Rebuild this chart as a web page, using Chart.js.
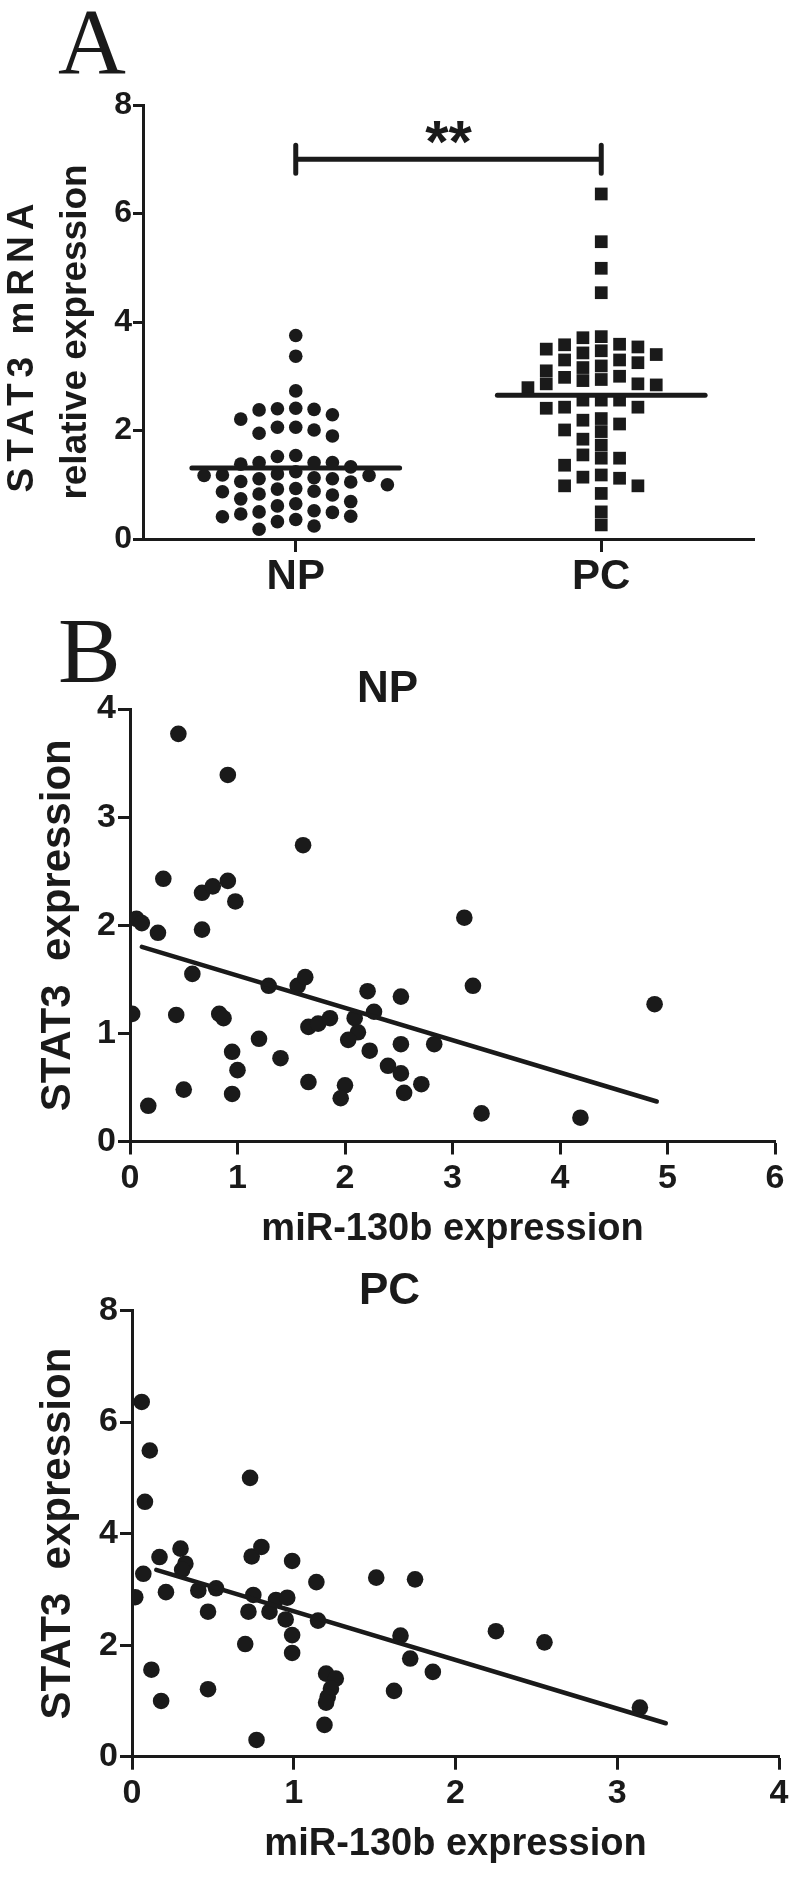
<!DOCTYPE html>
<html>
  <head>
    <script src="https://cdn.jsdelivr.net/npm/chart.js@4.4.1/dist/chart.umd.min.js"></script>
    <style>
      body { margin: 0; background: #fff; width: 794px; height: 1879px; position: relative; overflow: hidden; }
      .panel { position: absolute; left: 0; }
      .letter { position: absolute; font-family: 'Liberation Serif', 'Times New Roman', serif; font-size: 94px; line-height: 1; color: #1a1a1a; }
    </style>
  </head>

  <body>
    <div class="letter" style="left: 58px; top: -6px">A</div>
    <div class="letter" style="left: 58px; top: 603px">B</div>
    <div class="panel" style="top: 0"><canvas id="dotplot" width="794" height="620"></canvas></div>
    <div class="panel" style="top: 620px"><canvas id="npCorr" width="794" height="640"></canvas></div>
    <div class="panel" style="top: 1260px"><canvas id="pcCorr" width="794" height="619"></canvas></div>
    <script>
      // --- panel A: STAT3 mRNA relative expression per group
      const groups = ['NP', 'PC'];
      const npExpr = [3.75, 3.37, 2.73, 2.40, 2.38, 2.29, 2.39, 2.41, 2.21, 2.06, 2.01, 1.90, 1.95, 2.06,
        1.54, 1.41, 1.41, 1.38, 1.33, 1.41, 1.52, 1.24, 1.18, 1.17, 1.13, 1.17, 1.20, 1.11, 1.06, 1.00,
        1.05, 1.11, 0.93, 0.88, 0.83, 0.81, 0.87, 0.92, 0.74, 0.65, 0.61, 0.69, 0.50, 0.46, 0.41, 0.36,
        0.42, 0.49, 0.52, 0.32, 0.18, 0.24];
      const pcExpr = [6.36, 5.48, 4.99, 4.54, 3.71, 3.73, 3.59, 3.58, 3.50, 3.43, 3.47, 3.54, 3.40, 3.30,
        3.30, 3.25, 3.16, 3.19, 3.10, 3.00, 2.94, 2.98, 2.92, 2.86, 2.84, 2.86, 2.79, 2.56, 2.56, 2.56,
        2.41, 2.43, 2.43, 2.22, 2.19, 1.98, 2.12, 2.01, 1.84, 1.73, 1.49, 1.49, 1.55, 1.36, 1.18, 1.12,
        1.14, 0.98, 0.98, 0.84, 0.50, 0.26];
      const sigY = 7.0;
      const sigLabel = '**';

      // --- panel B: miR-130b (x) vs STAT3 (y)
      const npMir = [0.31, 0.67, 0.77, 0.91, 0.98, 0.06, 0.11, 0.26, 0.67, 0.58, 1.29, 1.56, 1.63, 2.21,
        2.52, 0.02, 0.43, 0.83, 0.87, 2.27, 2.09, 1.66, 1.75, 1.86, 2.12, 2.03, 1.20, 0.95, 2.23, 2.52,
        1.00, 1.40, 2.40, 2.52, 0.50, 0.95, 1.66, 2.00, 1.96, 0.17, 2.55, 0.45, 0.91, 1.61, 3.11, 3.19,
        4.88, 2.83, 2.71, 3.27, 4.19];
      const npStat = [2.43, 2.30, 2.36, 2.41, 2.22, 2.06, 2.02, 1.93, 1.96, 1.55, 1.44, 1.44, 1.52, 1.39,
        1.34, 1.18, 1.17, 1.18, 1.14, 1.20, 1.14, 1.06, 1.09, 1.14, 1.01, 0.94, 0.95, 0.83, 0.84, 0.90,
        0.66, 0.77, 0.70, 0.63, 0.48, 0.44, 0.55, 0.52, 0.40, 0.33, 0.45, 3.77, 3.39, 2.74, 2.07, 1.44,
        1.27, 0.90, 0.53, 0.26, 0.22];
      const npFitX = [0.11, 4.90];
      const npFitY = [1.80, 0.37];

      const pcMir = [0.06, 0.11, 0.08, 0.73, 0.17, 0.30, 0.33, 0.31, 0.74, 0.80, 0.99, 0.07, 1.14, 0.02,
        0.21, 0.41, 0.52, 0.75, 0.89, 0.96, 0.47, 0.72, 0.85, 0.95, 0.99, 0.99, 1.15, 0.70, 0.12, 0.18,
        0.47, 0.77, 1.20, 1.26, 1.23, 1.21, 1.20, 1.19, 1.51, 1.75, 1.66, 1.72, 1.86, 1.62, 2.25, 2.55, 3.14];
      const pcStat = [6.36, 5.49, 4.57, 5.00, 3.58, 3.73, 3.46, 3.35, 3.59, 3.76, 3.51, 3.28, 3.13, 2.86,
        2.95, 2.98, 3.02, 2.90, 2.81, 2.85, 2.60, 2.60, 2.60, 2.46, 2.18, 1.86, 2.44, 2.02, 1.56, 1.00,
        1.21, 0.30, 1.49, 1.40, 1.22, 1.07, 0.97, 0.57, 3.21, 3.18, 2.17, 1.76, 1.52, 1.18, 2.25, 2.05, 0.88];
      const pcFitX = [0.15, 3.30];
      const pcFitY = [3.35, 0.60];

      const ink = '#1a1a1a';
      const family = "'Liberation Sans', Arial, sans-serif";
      Chart.defaults.font.family = family;
      Chart.defaults.color = ink;

      const mean = (arr) => arr.reduce((a, b) => a + b, 0) / arr.length;

      // simple column scatter layout: each point takes the slot nearest the centre
      // where it does not overlap a point already placed
      function swarm(values, centre, slotWidth, minGap) {
        const placed = [];
        const order = values.map((v, i) => i).sort((a, b) => values[b] - values[a]);
        const out = new Array(values.length);
        order.forEach((i) => {
          const v = values[i];
          for (let k = 0; k < 40; k++) {
            const slot = k === 0 ? 0 : (k % 2 ? -Math.ceil(k / 2) : k / 2);
            const hit = placed.some((p) => p.slot === slot && Math.abs(p.v - v) < minGap);
            if (!hit) {
              placed.push({ slot, v });
              out[i] = { x: centre + slot * slotWidth, y: v };
              break;
            }
          }
        });
        return out;
      }

      const axisGrid = (len) => ({
        display: true,
        drawOnChartArea: false,
        drawTicks: true,
        tickLength: len,
        tickWidth: 3,
        tickColor: ink,
      });
      const axisBorder = { display: true, color: ink, width: 3 };
      const hLine = (x0, x1, y, w) => ({
        type: 'line',
        data: [{ x: x0, y }, { x: x1, y }],
        borderColor: ink,
        borderWidth: w,
        borderCapStyle: 'round',
        pointRadius: 0,
        fill: false,
      });

      // --- panel A
      const npMean = mean(npExpr);
      const pcMean = mean(pcExpr);
      const meanHalf = 0.34;
      const capHalf = 0.26;

      const sigText = {
        id: 'sigText',
        afterDatasetsDraw(chart) {
          const { ctx, scales } = chart;
          ctx.save();
          ctx.font = 'bold 60px ' + family;
          ctx.fillStyle = ink;
          ctx.textAlign = 'center';
          ctx.textBaseline = 'alphabetic';
          ctx.fillText(sigLabel, scales.x.getPixelForValue(1.5), scales.y.getPixelForValue(sigY) + 3);
          ctx.restore();
        },
      };

      // two-line rotated y title, the first line letter-spaced like the figure
      const stackedTitle = {
        id: 'stackedTitle',
        afterDraw(chart, args, opts) {
          const { ctx, chartArea } = chart;
          const cy = (chartArea.top + chartArea.bottom) / 2;
          opts.lines.forEach((ln) => {
            ctx.save();
            ctx.font = 'bold ' + opts.size + 'px ' + family;
            ctx.fillStyle = ink;
            ctx.textAlign = 'center';
            ctx.textBaseline = 'middle';
            ctx.letterSpacing = ln.spacing + 'px';
            ctx.translate(ln.x, cy + ln.shift);
            ctx.rotate(-Math.PI / 2);
            ctx.fillText(ln.text, ln.spacing / 2, 0);
            ctx.restore();
          });
        },
      };

      new Chart(document.getElementById('dotplot'), {
        type: 'scatter',
        data: {
          datasets: [
            hLine(1 - meanHalf, 1 + meanHalf, npMean, 5),
            hLine(2 - meanHalf, 2 + meanHalf, pcMean, 5),
            {
              type: 'line',
              data: [
                { x: 1, y: sigY - capHalf }, { x: 1, y: sigY + capHalf }, { x: 1, y: sigY },
                { x: 2, y: sigY }, { x: 2, y: sigY + capHalf }, { x: 2, y: sigY - capHalf },
              ],
              borderColor: ink,
              borderWidth: 5,
              borderCapStyle: 'round',
              borderJoinStyle: 'round',
              pointRadius: 0,
              fill: false,
            },
            {
              data: swarm(npExpr, 1, 0.06, 0.245),
              pointStyle: 'circle',
              pointRadius: 6.8,
              pointBackgroundColor: ink,
              pointBorderWidth: 0,
            },
            {
              data: swarm(pcExpr, 2, 0.06, 0.235),
              pointStyle: 'rect',
              pointRadius: 9,
              pointBackgroundColor: ink,
              pointBorderWidth: 0,
            },
          ],
        },
        options: {
          responsive: false,
          animation: false,
          layout: { padding: { top: 105, right: 40, left: 0, bottom: 0 } },
          plugins: {
            legend: { display: false },
            tooltip: { enabled: false },
            stackedTitle: {
              size: 37,
              lines: [
                { text: 'STAT3 mRNA', x: 23, shift: 26, spacing: 6 },
                { text: 'relative expression', x: 76, shift: 10, spacing: 0 },
              ],
            },
          },
          scales: {
            x: {
              type: 'linear',
              min: 0.5,
              max: 2.5,
              afterFit: (s) => { s.height = 81; },
              afterBuildTicks: (s) => { s.ticks = groups.map((g, i) => ({ value: i + 1 })); },
              ticks: {
                callback: (v) => groups[v - 1] || '',
                font: { size: 42, weight: 'bold' },
                padding: 0,
                maxRotation: 0,
                autoSkip: false,
              },
              grid: axisGrid(13),
              border: axisBorder,
            },
            y: {
              min: 0,
              max: 8,
              afterFit: (s) => { s.width = 143; },
              ticks: { stepSize: 2, font: { size: 32, weight: 'bold' }, padding: 1 },
              grid: axisGrid(10),
              border: axisBorder,
            },
          },
        },
        plugins: [sigText, stackedTitle],
      });

      // --- panel B
      function corrChart(id, opts) {
        const pts = opts.x.map((x, i) => ({ x, y: opts.y[i] }));
        const fit = opts.fitX.map((x, i) => ({ x, y: opts.fitY[i] }));
        return new Chart(document.getElementById(id), {
          type: 'scatter',
          data: {
            datasets: [
              {
                type: 'line',
                data: fit,
                borderColor: ink,
                borderWidth: 4.5,
                borderCapStyle: 'round',
                pointRadius: 0,
                fill: false,
              },
              {
                data: pts,
                pointRadius: 8.3,
                pointBackgroundColor: ink,
                pointBorderWidth: 0,
              },
            ],
          },
          options: {
            responsive: false,
            animation: false,
            layout: { padding: { top: 0, right: opts.padRight, left: 0, bottom: 0 } },
            plugins: {
              legend: { display: false },
              tooltip: { enabled: false },
              title: {
                display: true,
                text: opts.title,
                color: ink,
                font: { size: 44, weight: 'bold', lineHeight: 1 },
                padding: { top: opts.titleTop, bottom: opts.titleBottom },
              },
            },
            scales: {
              x: {
                type: 'linear',
                min: 0,
                max: opts.xMax,
                afterFit: (s) => { s.height = opts.xHeight; },
                ticks: { stepSize: 1, font: { size: 34, weight: 'bold' }, padding: 4, maxRotation: 0 },
                grid: axisGrid(13),
                border: axisBorder,
                title: {
                  display: true,
                  text: 'miR-130b expression',
                  font: { size: 38, weight: 'bold' },
                  padding: { top: 0, bottom: opts.xTitleBottom },
                },
              },
              y: {
                min: 0,
                max: opts.yMax,
                afterFit: (s) => { s.width = opts.yWidth; },
                ticks: { stepSize: opts.yStep, font: { size: 34, weight: 'bold' }, padding: 2 },
                grid: axisGrid(12),
                border: axisBorder,
                title: {
                  display: true,
                  text: 'STAT3  expression',
                  font: { size: 42, weight: 'bold' },
                  padding: { top: 33, bottom: 0 },
                },
              },
            },
          },
        });
      }

      corrChart('npCorr', {
        title: 'NP', x: npMir, y: npStat, fitX: npFitX, fitY: npFitY,
        xMax: 6, yMax: 4, yStep: 1, yWidth: 130, xHeight: 118.5, padRight: 19,
        titleTop: 48, titleBottom: -3, xTitleBottom: 8,
      });
      corrChart('pcCorr', {
        title: 'PC', x: pcMir, y: pcStat, fitX: pcFitX, fitY: pcFitY,
        xMax: 4, yMax: 8, yStep: 2, yWidth: 132, xHeight: 122.3, padRight: 15,
        titleTop: 10, titleBottom: -3.5, xTitleBottom: 12,
      });
    </script>
  </body>
</html>
